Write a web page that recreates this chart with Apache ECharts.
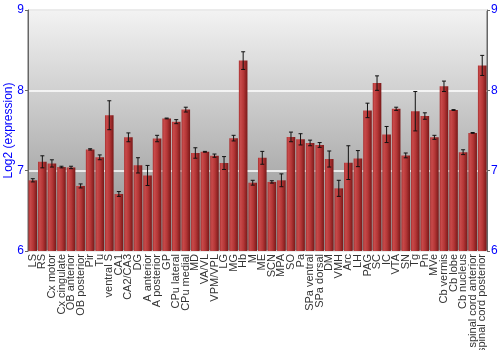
<!DOCTYPE html>
<html><head><meta charset="utf-8">
<script src="https://cdn.jsdelivr.net/npm/echarts@6/dist/echarts.min.js"></script>
<style>html,body{margin:0;padding:0;background:#fff}#c{width:500px;height:350px}</style>
</head><body><div id="c"></div>
<script>
const categories = ["LS","RS","Cx motor","Cx cingulate","OB anterior","OB posterior","Pir","Tu","ventral S","CA1","CA2/CA3","DG","A anterior","A posterior","GP","CPu lateral","CPu medial","MD","VA/VL","VPM/VPL","LG","MG","Hb","M","ME","SCN","MPA","SO","Pa","SPa ventral","SPa dorsal","DM","VMH","Arc","LH","PAG","SC","IC","VTA","SN","Tg","Pn","MVe","Cb vermis","Cb lobe","Cb nucleus","spinal cord anterior","spinal cord posterior"];
const values = [6.88,7.11,7.09,7.045,7.04,6.81,7.265,7.166,7.69,6.71,7.415,7.066,6.94,7.40,7.65,7.61,7.76,7.22,7.235,7.187,7.095,7.405,8.37,6.85,7.16,6.86,6.88,7.42,7.39,7.345,7.32,7.145,6.78,7.10,7.15,7.75,8.09,7.45,7.77,7.19,7.74,7.68,7.415,8.05,7.755,7.23,7.47,8.31];
const errors = [0.02,0.075,0.045,0.01,0.015,0.025,0.008,0.03,0.18,0.03,0.055,0.095,0.125,0.04,0.005,0.025,0.03,0.065,0.005,0.02,0.08,0.035,0.11,0.03,0.08,0.015,0.08,0.06,0.07,0.035,0.03,0.1,0.1,0.21,0.1,0.09,0.09,0.1,0.02,0.03,0.245,0.04,0.025,0.065,0.005,0.03,0.005,0.125];
const yTicks = [6,7,8,9];

const chart = echarts.init(document.getElementById('c'));
const errData = values.map((v,i)=>[i, v-errors[i], v+errors[i]]);
chart.setOption({
  animation:false,
  grid:{left:28,right:13,top:10,bottom:99,containLabel:false,outerBoundsMode:'none',show:true,borderColor:'#666',borderWidth:1,
    backgroundColor:new echarts.graphic.LinearGradient(0,0,0,1,[{offset:0,color:'#f3f3f3'},{offset:1,color:'#8c8c8c'}])},
  xAxis:{type:'category',data:categories,
    axisLine:{show:false},axisTick:{show:false},
    axisLabel:{interval:0,rotate:90,fontSize:11,color:'#333',fontFamily:'Liberation Sans, Arial',margin:3}},
  yAxis:[{type:'value',min:6,max:9,interval:1,position:'left',
    name:'Log2 (expression)',nameLocation:'middle',nameGap:13,nameMoveOverlap:false,
    nameTextStyle:{color:'#0000ff',fontSize:12,fontFamily:'Liberation Sans, Arial'},
    axisLine:{show:true,lineStyle:{color:'#666'}},axisTick:{show:true,length:3,lineStyle:{color:'#666'}},
    axisLabel:{color:'#0000ff',fontSize:12,margin:4,fontFamily:'Liberation Sans, Arial',
      formatter:v=>yTicks.includes(v)?String(v):''},
    splitLine:{show:true,lineStyle:{color:'#ffffff',width:1.5}}},
   {type:'value',min:6,max:9,interval:1,position:'right',
    axisLine:{show:true,lineStyle:{color:'#666'}},axisTick:{show:true,length:3,lineStyle:{color:'#666'}},
    axisLabel:{color:'#0000ff',fontSize:12,margin:4,fontFamily:'Liberation Sans, Arial'},
    splitLine:{show:false}}],
  series:[{type:'bar',data:values,barCategoryGap:'10%',
    itemStyle:{color:new echarts.graphic.LinearGradient(0,0,1,0,[
      {offset:0,color:'#a83030'},{offset:0.2,color:'#c84a4a'},{offset:0.55,color:'#b43636'},{offset:1,color:'#781818'}])}},
   {type:'custom',data:errData,z:10,
    renderItem:function(params,api){
      const x=api.value(0);
      const lo=api.coord([x,api.value(1)]);
      const hi=api.coord([x,api.value(2)]);
      const w=2;
      const st={stroke:'#111',lineWidth:1};
      return {type:'group',children:[
        {type:'line',shape:{x1:lo[0],y1:lo[1],x2:hi[0],y2:hi[1]},style:st},
        {type:'line',shape:{x1:lo[0]-w,y1:lo[1],x2:lo[0]+w,y2:lo[1]},style:st},
        {type:'line',shape:{x1:hi[0]-w,y1:hi[1],x2:hi[0]+w,y2:hi[1]},style:st}]};
    }}]
});
</script></body></html>
